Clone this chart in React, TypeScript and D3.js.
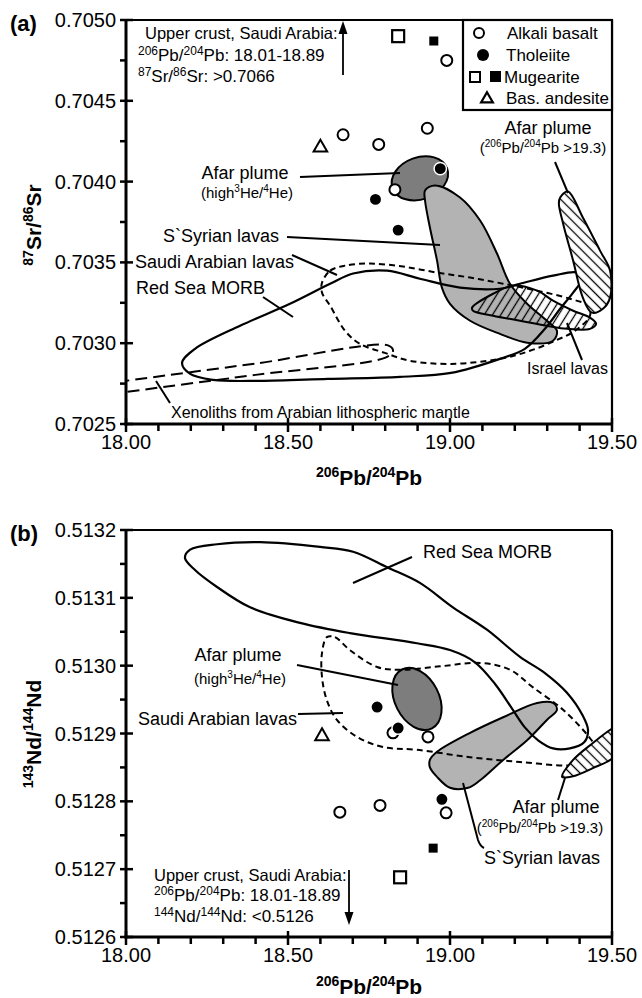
import * as d3 from "d3";

type P = [number, number];

// ---------- panel (a): 87Sr/86Sr vs 206Pb/204Pb ----------
const alkaliA: P[] = [[18.99, 0.70475], [18.93, 0.70433], [18.78, 0.70423], [18.67, 0.70429], [18.83, 0.70395]];
const tholeiiteA: P[] = [[18.97, 0.70408], [18.77, 0.70389], [18.84, 0.7037]];
const mugOpenA: P[] = [[18.84, 0.7049]];
const mugFilledA: P[] = [[18.95, 0.70487]];
const andesiteA: P[] = [[18.6, 0.70421]];

const morbA: P[] = [
  [18.173, 0.702878], [18.213, 0.702965], [18.352, 0.703108], [18.506, 0.703244], [18.63, 0.703368],
  [18.701, 0.703431], [18.806, 0.703449], [18.907, 0.703399], [19.031, 0.703344], [19.154, 0.703337],
  [19.216, 0.703368], [19.318, 0.703418], [19.392, 0.703437], [19.407, 0.703399], [19.38, 0.703313],
  [19.34, 0.703213], [19.293, 0.703089], [19.231, 0.702965], [19.154, 0.702903], [19.003, 0.702816],
  [18.846, 0.702792], [18.623, 0.702779], [18.414, 0.702767], [18.269, 0.702773], [18.198, 0.70281],
];
const saudiA: P[] = [
  [18.605, 0.703375], [18.63, 0.703449], [18.676, 0.70348], [18.753, 0.703493], [18.855, 0.703474],
  [18.96, 0.703437], [19.062, 0.703406], [19.164, 0.703368], [19.269, 0.703325], [19.37, 0.703275],
  [19.426, 0.703232], [19.432, 0.70317], [19.386, 0.703077], [19.324, 0.703015], [19.247, 0.702953],
  [19.154, 0.702903], [19.003, 0.702872], [18.877, 0.702891], [18.799, 0.70294], [18.722, 0.702996],
  [18.676, 0.703077], [18.63, 0.703232], [18.605, 0.703313],
];
const syrianA: P[] = [
  [18.923, 0.703945], [18.954, 0.703976], [19.031, 0.703902], [19.093, 0.703759], [19.145, 0.703555],
  [19.185, 0.703368], [19.238, 0.703244], [19.299, 0.703139], [19.33, 0.703077], [19.318, 0.703015],
  [19.238, 0.703003], [19.154, 0.703058], [19.062, 0.703139], [19.0, 0.703244], [18.975, 0.703344],
  [18.96, 0.703511], [18.938, 0.703716], [18.923, 0.703883],
];
const israelA: P[] = [
  [19.068, 0.70322], [19.133, 0.703306], [19.194, 0.703356], [19.269, 0.703325], [19.318, 0.703263],
  [19.38, 0.703201], [19.432, 0.703158], [19.451, 0.70312], [19.432, 0.703089], [19.361, 0.703089],
  [19.299, 0.703108], [19.216, 0.703139], [19.133, 0.70317], [19.071, 0.703201],
];
const afarHatchA: P[] = [
  [19.34, 0.703902], [19.364, 0.703939], [19.41, 0.703778], [19.463, 0.703573], [19.494, 0.703449],
  [19.494, 0.703282], [19.472, 0.703213], [19.438, 0.703189], [19.41, 0.703282], [19.38, 0.703511],
  [19.349, 0.703741], [19.336, 0.703865],
];
const xenolithA: P[] = [
  [17.95, 0.702685], [18.4, 0.702804], [18.799, 0.702909], [18.824, 0.702947], [18.812, 0.702984],
  [18.4, 0.702874], [17.95, 0.702754],
];
const afarHeA: P = [18.907, 0.70402];

// ---------- panel (b): 143Nd/144Nd vs 206Pb/204Pb ----------
const alkaliB: P[] = [[18.824, 0.512901], [18.932, 0.512895], [18.66, 0.512784], [18.784, 0.512794], [18.988, 0.512783]];
const tholeiiteB: P[] = [[18.775, 0.512939], [18.84, 0.512908], [18.975, 0.512803]];
const mugOpenB: P[] = [[18.846, 0.512688]];
const mugFilledB: P[] = [[18.948, 0.512731]];
const andesiteB: P[] = [[18.605, 0.512896]];

const morbB: P[] = [
  [18.182, 0.513159], [18.198, 0.513171], [18.281, 0.513179], [18.414, 0.513182], [18.599, 0.513175],
  [18.701, 0.513168], [18.806, 0.513145], [18.907, 0.513122], [19.009, 0.513086], [19.114, 0.513053],
  [19.216, 0.513013], [19.293, 0.512989], [19.361, 0.51296], [19.41, 0.512926], [19.426, 0.512905],
  [19.414, 0.512887], [19.37, 0.512878], [19.318, 0.512878], [19.272, 0.51289], [19.231, 0.512909],
  [19.191, 0.512937], [19.139, 0.512973], [19.077, 0.513005], [19.0, 0.513023], [18.898, 0.513033],
  [18.691, 0.513048], [18.537, 0.513063], [18.383, 0.513086], [18.281, 0.513116], [18.213, 0.513141],
];
const saudiB: P[] = [
  [18.62, 0.513042], [18.645, 0.513042], [18.691, 0.513023], [18.775, 0.512998], [18.855, 0.512994],
  [18.969, 0.512999], [19.093, 0.513004], [19.185, 0.512994], [19.256, 0.512968], [19.349, 0.512935],
  [19.432, 0.512893], [19.457, 0.512873], [19.432, 0.512858], [19.37, 0.512853], [19.216, 0.512858],
  [19.062, 0.512865], [18.898, 0.512876], [18.793, 0.51288], [18.713, 0.512895], [18.651, 0.51292],
  [18.62, 0.512949], [18.605, 0.512983], [18.605, 0.513019],
];
const syrianB: P[] = [
  [18.938, 0.512861], [18.96, 0.512873], [19.062, 0.512901], [19.164, 0.512924], [19.269, 0.512945],
  [19.318, 0.512945], [19.33, 0.512935], [19.299, 0.51292], [19.238, 0.51289], [19.164, 0.512861],
  [19.093, 0.512831], [19.056, 0.51282], [19.0, 0.51282], [18.96, 0.512836], [18.938, 0.51285],
];
const afarHatchB: P[] = [
  [19.346, 0.512836], [19.38, 0.512861], [19.441, 0.512886], [19.503, 0.512908], [19.556, 0.51292],
  [19.571, 0.512905], [19.503, 0.512864], [19.441, 0.512849], [19.38, 0.512837],
];
const afarHeB: P = [18.898, 0.512951];

// ---------- axes ----------
const xMajor = [18.0, 18.5, 19.0, 19.5];
const yMajorA = [0.7025, 0.703, 0.7035, 0.704, 0.7045, 0.705];
const yMajorB = [0.5126, 0.5127, 0.5128, 0.5129, 0.513, 0.5131, 0.5132];

const FONT = "'Liberation Sans', Arial, Helvetica, sans-serif";
const LEFT = 126;
const RIGHT = 612;

const x = d3.scaleLinear().domain([18, 19.5]).range([LEFT, RIGHT]);
const yA = d3.scaleLinear().domain([0.7025, 0.705]).range([424, 20]);
const yB = d3.scaleLinear().domain([0.5126, 0.5132]).range([937, 530]);

const xMinor = d3.range(1, 15).map((i) => 18 + i * 0.1).filter((v) => Math.abs(v * 2 - Math.round(v * 2)) > 0.01);

function closedPath(y: d3.ScaleLinear<number, number>, pts: P[]) {
  return d3.line<P>().x((d) => x(d[0])).y((d) => y(d[1])).curve(d3.curveCatmullRomClosed.alpha(0.5))(pts) || "";
}
function openPath(y: d3.ScaleLinear<number, number>, pts: P[]) {
  return d3.line<P>().x((d) => x(d[0])).y((d) => y(d[1])).curve(d3.curveCatmullRom.alpha(0.5))(pts) || "";
}

type Part = [string, boolean];

function Rich({ x: tx, y: ty, parts, size, sup, anchor = "start", weight = "normal", transform }: {
  x: number; y: number; parts: Part[]; size: number; sup: number; anchor?: string; weight?: string; transform?: string;
}) {
  let shift = 0;
  return (
    <text x={tx} y={ty} fontSize={size} textAnchor={anchor} fontWeight={weight} transform={transform}>
      {parts.map(([t, s], i) => {
        const target = s ? -size * 0.38 : 0;
        const dy = target - shift;
        shift = target;
        return (
          <tspan key={i} dy={dy} fontSize={s ? sup : size}>
            {t}
          </tspan>
        );
      })}
    </text>
  );
}

const triangle = d3.symbol().type(d3.symbolTriangle).size(80)() || "";

function Points({ y, alkali, tholeiite, mugOpen, mugFilled, andesite }: {
  y: d3.ScaleLinear<number, number>; alkali: P[]; tholeiite: P[]; mugOpen: P[]; mugFilled: P[]; andesite: P[];
}) {
  return (
    <g>
      {andesite.map((d, i) => (
        <path key={"t" + i} d={triangle} transform={`translate(${x(d[0])},${y(d[1])})`} fill="#fff" stroke="#000" strokeWidth={2} />
      ))}
      {mugOpen.map((d, i) => (
        <rect key={"s" + i} x={x(d[0]) - 6} y={y(d[1]) - 6} width={12} height={12} fill="#fff" stroke="#000" strokeWidth={2.2} />
      ))}
      {mugFilled.map((d, i) => (
        <rect key={"f" + i} x={x(d[0]) - 4.5} y={y(d[1]) - 4.5} width={9} height={9} fill="#000" />
      ))}
      {alkali.map((d, i) => (
        <circle key={"a" + i} cx={x(d[0])} cy={y(d[1])} r={5.5} fill="#fff" stroke="#000" strokeWidth={2} />
      ))}
      {tholeiite.map((d, i) => (
        <circle key={"h" + i} cx={x(d[0])} cy={y(d[1])} r={6.2} fill="#000" stroke="#fff" strokeWidth={1.5} />
      ))}
    </g>
  );
}

function Frame({ y, ticks, top, bottom, fmtMinor }: {
  y: d3.ScaleLinear<number, number>; ticks: number[]; top: number; bottom: number; fmtMinor: number;
}) {
  const minor = ticks.slice(0, -1).map((t) => t + fmtMinor);
  return (
    <g>
      <line x1={LEFT} x2={RIGHT} y1={top} y2={top} stroke="#000" strokeWidth={2.2} />
      <line x1={RIGHT} x2={RIGHT} y1={top} y2={bottom} stroke="#000" strokeWidth={2.2} />
      <line x1={LEFT} x2={LEFT} y1={top - 1} y2={bottom + 1.5} stroke="#000" strokeWidth={3} />
      <line x1={LEFT - 1.5} x2={RIGHT + 1} y1={bottom} y2={bottom} stroke="#000" strokeWidth={3} />
      {ticks.map((t) => (
        <g key={t}>
          <line x1={LEFT - 6} x2={LEFT + 7} y1={y(t)} y2={y(t)} stroke="#000" strokeWidth={2.5} />
          <text x={LEFT - 10} y={y(t) + 7} fontSize={20} textAnchor="end">
            {t.toFixed(4)}
          </text>
        </g>
      ))}
      {minor.map((t) => (
        <line key={t} x1={LEFT - 6} x2={LEFT} y1={y(t)} y2={y(t)} stroke="#000" strokeWidth={2.5} />
      ))}
      {xMajor.map((t) => (
        <g key={t}>
          <line x1={x(t)} x2={x(t)} y1={bottom - 6} y2={bottom + 8} stroke="#000" strokeWidth={2.5} />
          <text x={x(t)} y={bottom + 25} fontSize={20} textAnchor="middle">
            {t.toFixed(2)}
          </text>
        </g>
      ))}
      {xMinor.map((t) => (
        <line key={t} x1={x(t)} x2={x(t)} y1={bottom} y2={bottom + 7} stroke="#000" strokeWidth={2.5} />
      ))}
    </g>
  );
}

const leader = { stroke: "#000", strokeWidth: 2, fill: "none" } as const;

function Ellipse({ y, c, rx, ry, rot }: { y: d3.ScaleLinear<number, number>; c: P; rx: number; ry: number; rot: number }) {
  const cx = x(c[0]);
  const cy = y(c[1]);
  return <ellipse cx={cx} cy={cy} rx={rx} ry={ry} transform={`rotate(${rot},${cx},${cy})`} fill="#7d7d7d" stroke="#000" strokeWidth={2} />;
}

const pbTitle: Part[] = [["206", true], ["Pb/", false], ["204", true], ["Pb", false]];
const pbAnno: Part[] = [["(", false], ["206", true], ["Pb/", false], ["204", true], ["Pb >19.3)", false]];
const heAnno: Part[] = [["(high", false], ["3", true], ["He/", false], ["4", true], ["He)", false]];

function PanelA() {
  const y = yA;
  return (
    <g>
      <text x={10} y={31} fontSize={22} fontWeight="bold">(a)</text>
      <g clipPath="url(#clipA)">
        <Ellipse y={y} c={afarHeA} rx={29} ry={21} rot={-20} />
        <path d={closedPath(y, syrianA)} fill="#b3b3b3" stroke="#000" strokeWidth={2} />
        <path d={closedPath(y, morbA)} fill="none" stroke="#000" strokeWidth={2.2} />
        <path d={closedPath(y, saudiA)} fill="none" stroke="#000" strokeWidth={2} strokeDasharray="6,4" />
        <path d={openPath(y, xenolithA)} fill="none" stroke="#000" strokeWidth={2} strokeDasharray="12,6" />
        <path d={closedPath(y, israelA)} fill="url(#hatchFwd)" stroke="#000" strokeWidth={2} />
        <path d={closedPath(y, afarHatchA)} fill="#fff" stroke="none" />
        <path d={closedPath(y, afarHatchA)} fill="url(#hatchBack)" stroke="#000" strokeWidth={2} />
      </g>
      <Frame y={y} ticks={yMajorA} top={20} bottom={424} fmtMinor={0.00025} />

      {/* labels */}
      <text x={245} y={179} fontSize={18} textAnchor="middle">Afar plume</text>
      <Rich x={247} y={198} parts={heAnno} size={15} sup={10} anchor="middle" />
      <line x1={300} y1={177} x2={400} y2={173} {...leader} />
      <text x={279} y={242} fontSize={18} textAnchor="end">S`Syrian lavas</text>
      <line x1={287} y1={237} x2={440} y2={245} {...leader} />
      <text x={135} y={268} fontSize={18}>Saudi Arabian lavas</text>
      <line x1={292} y1={255} x2={337} y2={275} {...leader} />
      <text x={136} y={294} fontSize={18}>Red Sea MORB</text>
      <line x1={263} y1={297} x2={293} y2={317} {...leader} />
      <text x={548} y={134} fontSize={18} textAnchor="middle">Afar plume</text>
      <Rich x={543} y={153} parts={pbAnno} size={15} sup={10} anchor="middle" />
      <line x1={555} y1={162} x2={568} y2={193} {...leader} />
      <text x={527} y={374} fontSize={16}>Israel lavas</text>
      <line x1={567} y1={323} x2={582} y2={360} {...leader} />
      <text x={171} y={418} fontSize={16}>Xenoliths from Arabian lithospheric mantle</text>
      <line x1={156} y1={381} x2={170} y2={403} {...leader} />

      <text x={145} y={39} fontSize={16.5}>Upper crust, Saudi Arabia:</text>
      <Rich x={138} y={61} parts={[["206", true], ["Pb/", false], ["204", true], ["Pb: 18.01-18.89", false]]} size={17} sup={12} />
      <Rich x={138} y={82} parts={[["87", true], ["Sr/", false], ["86", true], ["Sr: >0.7066", false]]} size={17} sup={12} />
      <line x1={343} y1={75} x2={343} y2={30} stroke="#000" strokeWidth={1.8} />
      <path d="M343,21 L338.5,34 L347.5,34 Z" fill="#000" />

      <Points y={y} alkali={alkaliA} tholeiite={tholeiiteA} mugOpen={mugOpenA} mugFilled={mugFilledA} andesite={andesiteA} />

      {/* legend */}
      <rect x={463} y={20} width={149} height={90} fill="#fff" stroke="#000" strokeWidth={2.2} />
      <circle cx={479} cy={33} r={5} fill="#fff" stroke="#000" strokeWidth={2} />
      <text x={507} y={39} fontSize={17}>Alkali basalt</text>
      <circle cx={483} cy={55} r={6} fill="#000" />
      <text x={506} y={61} fontSize={17}>Tholeiite</text>
      <rect x={470} y={72} width={10} height={10} fill="#fff" stroke="#000" strokeWidth={2} />
      <rect x={490} y={71} width={11} height={11} fill="#000" />
      <text x={504} y={83} fontSize={17}>Mugearite</text>
      <path d={d3.symbol().type(d3.symbolTriangle).size(60)() || ""} transform="translate(487,99)" fill="#fff" stroke="#000" strokeWidth={2.2} />
      <text x={506} y={104} fontSize={17}>Bas. andesite</text>

      <Rich x={369} y={485} parts={pbTitle} size={21} sup={14} anchor="middle" weight="bold" />
      <Rich x={41} y={225} parts={[["87", true], ["Sr/", false], ["86", true], ["Sr", false]]} size={21} sup={14} anchor="middle" weight="bold" transform="rotate(-90,41,225)" />
    </g>
  );
}

function PanelB() {
  const y = yB;
  return (
    <g>
      <text x={10} y={541} fontSize={22} fontWeight="bold">(b)</text>
      <g clipPath="url(#clipB)">
        <Ellipse y={y} c={afarHeB} rx={33} ry={22} rot={63} />
        <path d={closedPath(y, syrianB)} fill="#b3b3b3" stroke="#000" strokeWidth={2} />
        <path d={closedPath(y, morbB)} fill="none" stroke="#000" strokeWidth={2.2} />
        <path d={closedPath(y, saudiB)} fill="none" stroke="#000" strokeWidth={2} strokeDasharray="6,4" />
        <path d={closedPath(y, afarHatchB)} fill="#fff" stroke="none" />
        <path d={closedPath(y, afarHatchB)} fill="url(#hatchBack)" stroke="#000" strokeWidth={2} />
      </g>
      <Frame y={y} ticks={yMajorB} top={530} bottom={937} fmtMinor={0.00005} />

      <text x={423} y={558} fontSize={18}>Red Sea MORB</text>
      <line x1={353} y1={583} x2={412} y2={557} {...leader} />
      <text x={238} y={661} fontSize={18} textAnchor="middle">Afar plume</text>
      <Rich x={240} y={684} parts={heAnno} size={15} sup={10} anchor="middle" />
      <line x1={297} y1={665} x2={398} y2={685} {...leader} />
      <text x={138} y={725} fontSize={18}>Saudi Arabian lavas</text>
      <line x1={298} y1={714} x2={343} y2={713} {...leader} />
      <text x={556} y={813} fontSize={18} textAnchor="middle">Afar plume</text>
      <Rich x={540} y={833} parts={pbAnno} size={15} sup={10} anchor="middle" />
      <line x1={558} y1={800} x2={565} y2={778} {...leader} />
      <text x={484} y={864} fontSize={18}>S`Syrian lavas</text>
      <path d="M463,783 L478,840 Q480,846 484,848" {...leader} />

      <text x={154} y={881} fontSize={16.5}>Upper crust, Saudi Arabia:</text>
      <Rich x={154} y={901} parts={[["206", true], ["Pb/", false], ["204", true], ["Pb: 18.01-18.89", false]]} size={17} sup={12} />
      <Rich x={154} y={922} parts={[["144", true], ["Nd/", false], ["144", true], ["Nd: <0.5126", false]]} size={17} sup={12} />
      <line x1={349} y1={870} x2={349} y2={915} stroke="#000" strokeWidth={1.8} />
      <path d="M349,925 L344.5,912 L353.5,912 Z" fill="#000" />

      <Points y={y} alkali={alkaliB} tholeiite={tholeiiteB} mugOpen={mugOpenB} mugFilled={mugFilledB} andesite={andesiteB} />

      <Rich x={369} y={994} parts={pbTitle} size={21} sup={14} anchor="middle" weight="bold" />
      <Rich x={41} y={734} parts={[["143", true], ["Nd/", false], ["144", true], ["Nd", false]]} size={21} sup={14} anchor="middle" weight="bold" transform="rotate(-90,41,734)" />
    </g>
  );
}

export default function App() {
  return (
    <div style={{ position: "absolute", left: 0, top: 0 }}>
      <svg width={642} height={998} fontFamily={FONT} style={{ display: "block", background: "#fff" }}>
        <defs>
          <pattern id="hatchBack" width={7} height={7} patternUnits="userSpaceOnUse" patternTransform="rotate(-45)">
            <line x1={3.5} y1={0} x2={3.5} y2={7} stroke="#000" strokeWidth={1.3} />
          </pattern>
          <pattern id="hatchFwd" width={7} height={7} patternUnits="userSpaceOnUse" patternTransform="rotate(32)">
            <line x1={3.5} y1={0} x2={3.5} y2={7} stroke="#000" strokeWidth={1.3} />
          </pattern>
          <clipPath id="clipA">
            <rect x={LEFT} y={20} width={RIGHT - LEFT} height={404} />
          </clipPath>
          <clipPath id="clipB">
            <rect x={LEFT} y={530} width={RIGHT - LEFT} height={407} />
          </clipPath>
        </defs>
        <PanelA />
        <PanelB />
      </svg>
    </div>
  );
}
